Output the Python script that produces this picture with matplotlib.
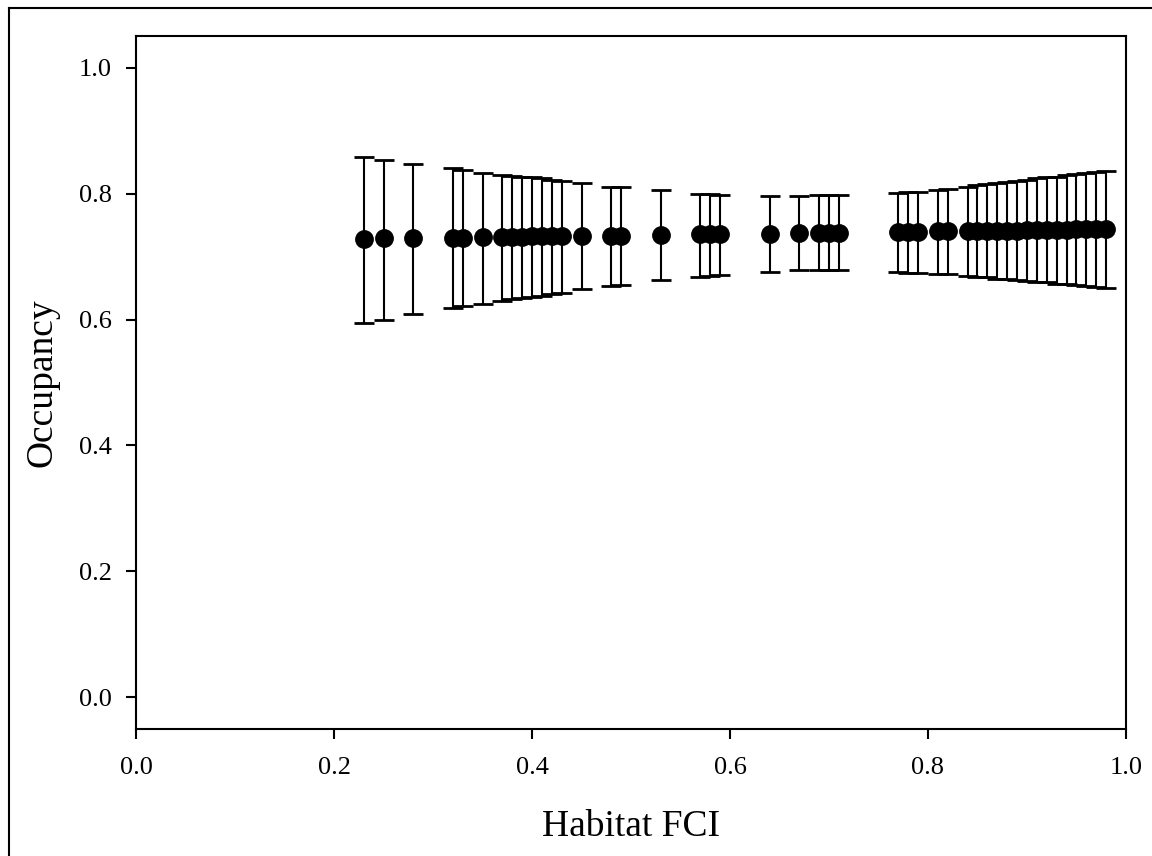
import numpy as np
import matplotlib
matplotlib.use("Agg")
import matplotlib.pyplot as plt
from matplotlib.lines import Line2D

# Habitat FCI values and occupancy estimates with CI bounds
fci = [0.23, 0.25, 0.28, 0.32, 0.33, 0.35, 0.37, 0.38, 0.39, 0.40, 0.41, 0.42,
       0.43, 0.45, 0.48, 0.49, 0.53, 0.57, 0.58, 0.59, 0.64, 0.67, 0.69, 0.70,
       0.71, 0.77, 0.78, 0.79, 0.81, 0.82, 0.84, 0.85, 0.86, 0.87, 0.88, 0.89,
       0.90, 0.91, 0.92, 0.93, 0.94, 0.95, 0.96, 0.97, 0.98]
occupancy = [0.728, 0.729, 0.729, 0.730, 0.730, 0.731, 0.731, 0.731, 0.731, 0.732,
             0.732, 0.732, 0.732, 0.733, 0.733, 0.733, 0.734, 0.735, 0.735, 0.735,
             0.736, 0.737, 0.737, 0.738, 0.738, 0.739, 0.739, 0.739, 0.740, 0.740,
             0.740, 0.741, 0.741, 0.741, 0.741, 0.741, 0.742, 0.742, 0.742, 0.742,
             0.742, 0.743, 0.743, 0.743, 0.743]
upper = [0.858, 0.853, 0.847, 0.840, 0.838, 0.833, 0.830, 0.828, 0.827, 0.826,
         0.824, 0.822, 0.820, 0.816, 0.811, 0.810, 0.805, 0.799, 0.799, 0.798,
         0.796, 0.796, 0.797, 0.797, 0.797, 0.801, 0.802, 0.803, 0.806, 0.807,
         0.811, 0.813, 0.815, 0.817, 0.818, 0.820, 0.822, 0.824, 0.826, 0.827,
         0.829, 0.831, 0.832, 0.834, 0.836]
lower = [0.595, 0.600, 0.608, 0.618, 0.621, 0.625, 0.630, 0.632, 0.634, 0.636,
         0.638, 0.640, 0.642, 0.648, 0.653, 0.655, 0.663, 0.668, 0.669, 0.671,
         0.676, 0.678, 0.678, 0.678, 0.678, 0.675, 0.674, 0.674, 0.672, 0.672,
         0.669, 0.668, 0.667, 0.665, 0.664, 0.663, 0.661, 0.660, 0.659, 0.657,
         0.656, 0.655, 0.653, 0.652, 0.650]

plt.rcParams['font.family'] = ['Liberation Serif', 'DejaVu Serif']

fig = plt.figure(figsize=(11.52, 8.56), dpi=100)
ax = fig.add_axes([0.1181, 0.1484, 0.8593, 0.8095])

occ = np.array(occupancy)
yerr = [occ - np.array(lower), np.array(upper) - occ]
ax.errorbar(fci, occ, yerr=yerr, fmt='o', color='black', markersize=12.5,
            ecolor='black', elinewidth=1.5, capsize=7.5, capthick=2)

ax.set_xlim(0, 1.0)
ax.set_ylim(-0.05, 1.05)
ax.set_xticks([0.0, 0.2, 0.4, 0.6, 0.8, 1.0])
ax.set_yticks([0.0, 0.2, 0.4, 0.6, 0.8, 1.0])
ax.xaxis.set_major_formatter(plt.FormatStrFormatter('%.1f'))
ax.yaxis.set_major_formatter(plt.FormatStrFormatter('%.1f'))
ax.tick_params(direction='out', length=7.5, width=1.5, labelsize=19,
               top=False, right=False)
ax.tick_params(axis='x', pad=13)
ax.tick_params(axis='y', pad=10)
for sp in ax.spines.values():
    sp.set_linewidth(1.5)

ax.set_xlabel('Habitat FCI', fontsize=27, labelpad=22)
ax.set_ylabel('Occupancy', fontsize=27, labelpad=14)

# outer frame around figure
W, H = 1152, 856
fig.add_artist(Line2D([9 / W, 9 / W], [0, 1 - 8 / H], transform=fig.transFigure,
                      color='black', lw=1.5))
fig.add_artist(Line2D([9 / W, 1], [1 - 8 / H, 1 - 8 / H], transform=fig.transFigure,
                      color='black', lw=1.5))

fig.savefig('out.png', dpi=100)
